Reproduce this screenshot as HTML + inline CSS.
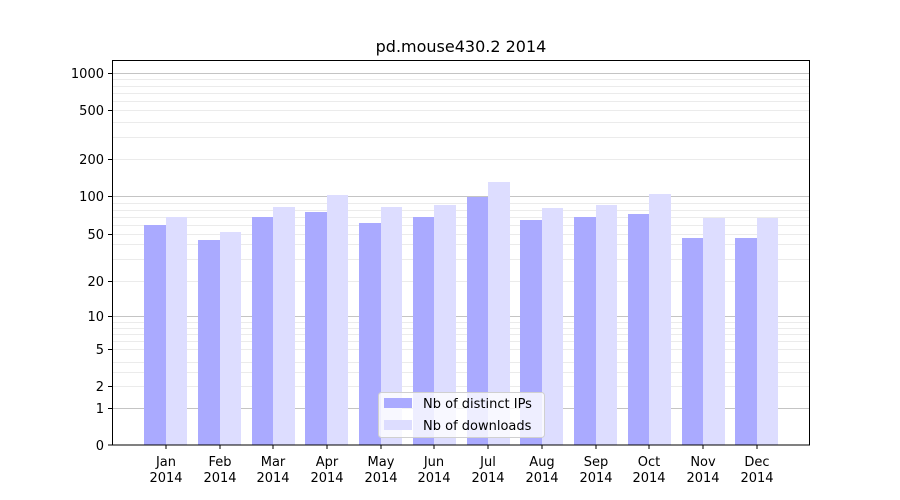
<!DOCTYPE html>
<html><head><meta charset="utf-8"><style>body{margin:0;background:#fff}svg{display:block;font-family:"DejaVu Sans","Liberation Sans",sans-serif}</style></head>
<body>
<svg width="900" height="500" xmlns="http://www.w3.org/2000/svg">
<g stroke="#ebebeb" stroke-width="1">
<line x1="112" x2="810" y1="372.5" y2="372.5"/><line x1="112" x2="810" y1="362.5" y2="362.5"/><line x1="112" x2="810" y1="341.5" y2="341.5"/><line x1="112" x2="810" y1="334.5" y2="334.5"/><line x1="112" x2="810" y1="328.5" y2="328.5"/><line x1="112" x2="810" y1="322.5" y2="322.5"/>
<line x1="112" x2="810" y1="259.5" y2="259.5"/><line x1="112" x2="810" y1="244.5" y2="244.5"/><line x1="112" x2="810" y1="225.5" y2="225.5"/><line x1="112" x2="810" y1="217.5" y2="217.5"/><line x1="112" x2="810" y1="210.5" y2="210.5"/><line x1="112" x2="810" y1="203.5" y2="203.5"/>
<line x1="112" x2="810" y1="137.5" y2="137.5"/><line x1="112" x2="810" y1="122.5" y2="122.5"/><line x1="112" x2="810" y1="101.5" y2="101.5"/><line x1="112" x2="810" y1="93.5" y2="93.5"/><line x1="112" x2="810" y1="86.5" y2="86.5"/><line x1="112" x2="810" y1="79.5" y2="79.5"/>
<line x1="112" x2="810" y1="386.5" y2="386.5"/><line x1="112" x2="810" y1="349.5" y2="349.5"/><line x1="112" x2="810" y1="281.5" y2="281.5"/><line x1="112" x2="810" y1="234.5" y2="234.5"/><line x1="112" x2="810" y1="159.5" y2="159.5"/><line x1="112" x2="810" y1="110.5" y2="110.5"/>
</g>
<g stroke="#c4c4c4" stroke-width="1">
<line x1="112" x2="810" y1="408.5" y2="408.5"/><line x1="112" x2="810" y1="316.5" y2="316.5"/><line x1="112" x2="810" y1="196.5" y2="196.5"/><line x1="112" x2="810" y1="73.5" y2="73.5"/>
</g>
<g>
<rect x="144" y="225" width="22" height="220" fill="#aaaaff"/><rect x="166" y="217" width="21" height="228" fill="#ddddff"/>
<rect x="198" y="240" width="22" height="205" fill="#aaaaff"/><rect x="220" y="232" width="21" height="213" fill="#ddddff"/>
<rect x="252" y="217" width="21" height="228" fill="#aaaaff"/><rect x="273" y="207" width="22" height="238" fill="#ddddff"/>
<rect x="305" y="212" width="22" height="233" fill="#aaaaff"/><rect x="327" y="195" width="21" height="250" fill="#ddddff"/>
<rect x="359" y="223" width="22" height="222" fill="#aaaaff"/><rect x="381" y="207" width="21" height="238" fill="#ddddff"/>
<rect x="413" y="217" width="21" height="228" fill="#aaaaff"/><rect x="434" y="205" width="22" height="240" fill="#ddddff"/>
<rect x="467" y="197" width="21" height="248" fill="#aaaaff"/><rect x="488" y="182" width="22" height="263" fill="#ddddff"/>
<rect x="520" y="220" width="22" height="225" fill="#aaaaff"/><rect x="542" y="208" width="21" height="237" fill="#ddddff"/>
<rect x="574" y="217" width="22" height="228" fill="#aaaaff"/><rect x="596" y="205" width="21" height="240" fill="#ddddff"/>
<rect x="628" y="214" width="21" height="231" fill="#aaaaff"/><rect x="649" y="194" width="22" height="251" fill="#ddddff"/>
<rect x="682" y="238" width="21" height="207" fill="#aaaaff"/><rect x="703" y="218" width="22" height="227" fill="#ddddff"/>
<rect x="735" y="238" width="22" height="207" fill="#aaaaff"/><rect x="757" y="218" width="21" height="227" fill="#ddddff"/>
</g>
<rect x="112.5" y="60.5" width="697" height="384.5" fill="none" stroke="#000" stroke-width="1"/>
<g stroke="#000"><line x1="108" x2="112" y1="445" y2="445"/><line x1="108" x2="112" y1="408.5" y2="408.5"/><line x1="108" x2="112" y1="386.5" y2="386.5"/><line x1="108" x2="112" y1="349.5" y2="349.5"/><line x1="108" x2="112" y1="316.5" y2="316.5"/><line x1="108" x2="112" y1="281.5" y2="281.5"/><line x1="108" x2="112" y1="234.5" y2="234.5"/><line x1="108" x2="112" y1="196.5" y2="196.5"/><line x1="108" x2="112" y1="159.5" y2="159.5"/><line x1="108" x2="112" y1="110.5" y2="110.5"/><line x1="108" x2="112" y1="73.5" y2="73.5"/></g>
<g font-size="13" text-anchor="end" fill="#000"><text x="104" y="450">0</text><text x="104" y="413">1</text><text x="104" y="391">2</text><text x="104" y="354">5</text><text x="104" y="321">10</text><text x="104" y="286">20</text><text x="104" y="239">50</text><text x="104" y="201">100</text><text x="104" y="164">200</text><text x="104" y="115">500</text><text x="104" y="78">1000</text></g>
<g font-size="13" text-anchor="middle" fill="#000">
<text x="166" y="466">Jan</text><text x="166" y="482">2014</text>
<text x="220" y="466">Feb</text><text x="220" y="482">2014</text>
<text x="273" y="466">Mar</text><text x="273" y="482">2014</text>
<text x="327" y="466">Apr</text><text x="327" y="482">2014</text>
<text x="381" y="466">May</text><text x="381" y="482">2014</text>
<text x="434" y="466">Jun</text><text x="434" y="482">2014</text>
<text x="488" y="466">Jul</text><text x="488" y="482">2014</text>
<text x="542" y="466">Aug</text><text x="542" y="482">2014</text>
<text x="596" y="466">Sep</text><text x="596" y="482">2014</text>
<text x="649" y="466">Oct</text><text x="649" y="482">2014</text>
<text x="703" y="466">Nov</text><text x="703" y="482">2014</text>
<text x="757" y="466">Dec</text><text x="757" y="482">2014</text>
</g>
<g stroke="#000"><line x1="166" x2="166" y1="445" y2="449"/><line x1="220" x2="220" y1="445" y2="449"/><line x1="273" x2="273" y1="445" y2="449"/><line x1="327" x2="327" y1="445" y2="449"/><line x1="381" x2="381" y1="445" y2="449"/><line x1="434" x2="434" y1="445" y2="449"/><line x1="488" x2="488" y1="445" y2="449"/><line x1="542" x2="542" y1="445" y2="449"/><line x1="596" x2="596" y1="445" y2="449"/><line x1="649" x2="649" y1="445" y2="449"/><line x1="703" x2="703" y1="445" y2="449"/><line x1="757" x2="757" y1="445" y2="449"/></g>
<text x="461" y="52" font-size="16" text-anchor="middle">pd.mouse430.2 2014</text>
<rect x="378.5" y="392.5" width="166" height="45" rx="3" fill="#fff" fill-opacity="0.8" stroke="#d0d0d0"/>
<rect x="384" y="398" width="28" height="10" fill="#aaaaff"/><rect x="384" y="420" width="28" height="10" fill="#ddddff"/>
<text x="423" y="408" font-size="13">Nb of distinct IPs</text><text x="423" y="430" font-size="13">Nb of downloads</text>
</svg>
</body></html>
